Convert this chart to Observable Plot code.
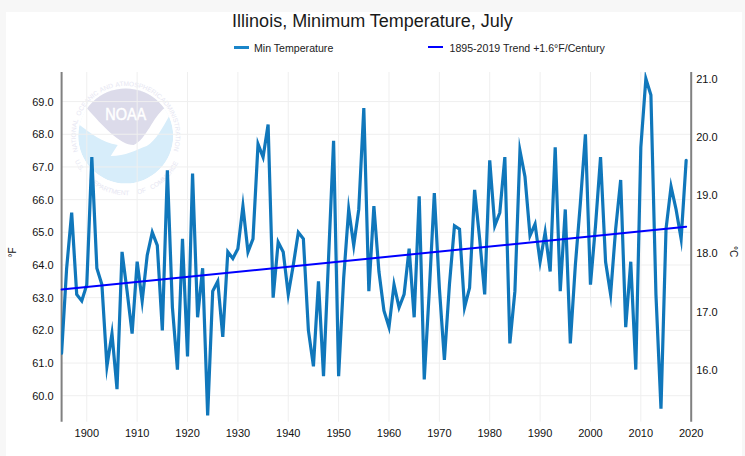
<!DOCTYPE html>
<html><head><meta charset="utf-8">
<script src="https://cdn.jsdelivr.net/npm/d3@7"></script>
<script src="https://cdn.jsdelivr.net/npm/@observablehq/plot@0.6"></script>
<style>
html,body{margin:0;padding:0;background:#f7f7f7;overflow:hidden}
#wrap{position:relative;width:745px;height:456px;font-family:"Liberation Sans",Arial,sans-serif;overflow:hidden}
#panel{position:absolute;left:6px;top:12px;width:735.5px;height:444px;background:#fff}
#logo{position:absolute;left:0;top:0}
#plot{position:absolute;left:0;top:0}
#title{position:absolute;left:0;width:745px;top:11px;text-align:center;font-size:18px;color:#1a1a1a;line-height:21px}
.lg{position:absolute;top:42px;font-size:10.6px;color:#222;line-height:13px;white-space:nowrap}
.sw{position:absolute;height:0}
</style></head><body>
<div id="wrap">
<div id="panel"></div>
<svg id="logo" width="745" height="456"><defs>
<clipPath id="dc"><circle r="47.5"/></clipPath>
<path id="arcTop" d="M-47.55,15.45 A50,50 0 1 1 47.55,15.45"/>
<path id="arcBot" d="M-51,25 A57,57 0 0 0 52.5,27"/>
</defs>
<g id="logoG" transform="translate(125.7,136)">
<g clip-path="url(#dc)"><circle r="47.5" fill="#d7edfa"/>
<path fill="#fff" d="M-50,-14 C-35,-3 -25,6 -8,9 L-15,20 C0,20 10,14 21,10 C30,5 38,-10 44,-21 L50,-50 L-50,-50 Z"/>
<path fill="#dcdbea" d="M-39,-28 A47.5,47.5 0 0 1 39,-28 C27,-19 21,3 8,9 C-6,9 -23,-10 -39,-28 Z"/></g>
<text x="0" y="-16" text-anchor="middle" font-family="Liberation Sans" font-size="16.5" fill="#fff" stroke="#fff" stroke-width="0.5" textLength="41" lengthAdjust="spacingAndGlyphs">NOAA</text>
</g></svg>
<div id="plot"></div>
<div id="title">Illinois, Minimum Temperature, July</div>
<div class="sw" style="left:234px;width:15px;border-top:3px solid #1a85c9;top:45.5px"></div>
<div class="lg" style="left:254px">Min Temperature</div>
<div class="sw" style="left:428px;width:15px;border-top:2px solid #0000ff;top:46px"></div>
<div class="lg" style="left:449.5px">1895-2019 Trend +1.6°F/Century</div>
</div>
<script>
const years = d3.range(1895, 2020);
const minTempF = [
61.3,63.9,65.6,63.1,62.9,63.4,67.3,63.9,63.4,60.9,61.9,60.2,64.4,63.2,61.9,64.1,62.9,64.3,65.0,64.6,
62.0,66.9,62.7,60.8,64.8,61.2,66.8,62.4,63.9,59.4,63.2,63.5,61.8,64.4,64.2,64.5,65.8,64.4,64.8,67.7,
67.3,68.3,63.0,64.7,64.4,63.1,64.0,65.0,64.8,62.0,60.9,63.5,60.6,64.2,67.8,60.6,63.6,65.7,64.6,65.7,
68.8,63.2,65.8,63.8,62.6,62.1,63.4,62.7,63.1,64.5,62.4,66.1,60.5,63.2,66.2,63.3,61.1,63.4,65.2,65.1,
62.7,63.3,66.3,64.8,63.1,67.2,65.2,65.6,67.3,61.6,63.2,67.5,66.7,64.9,65.25,64.1,65.0,63.8,67.6,63.2,
65.7,61.6,64.0,65.9,68.0,63.4,65.2,67.3,64.1,63.1,65.1,66.6,62.1,64.1,60.8,67.6,69.7,69.2,63.1,59.6,
65.1,66.4,65.7,64.8,67.2];
const trendYears = [1895, 2019];
const trendF = [63.25, 65.17];
const xTicks = d3.range(1900, 2030, 10);
const fTicks = d3.range(60, 70);
const cTicks = [16, 17, 18, 19, 20, 21];
const cToAxisF = c => 60.77 + (c - 16) * 1.784; // right axis
const logoTop = ["NATIONAL", "OCEANIC", "AND", "ATMOSPHERIC", "ADMINISTRATION"];
const logoBot = ["U.S.", "DEPARTMENT", "OF", "COMMERCE"];
const temps = years.map((year, i) => ({year, f: minTempF[i]}));
const trend = trendYears.map((year, i) => ({year, f: trendF[i]}));
const font = "Liberation Sans";
const chart = Plot.plot({
  width: 745, height: 456,
  marginLeft: 61.1, marginRight: 54.3, marginTop: 72, marginBottom: 34.3,
  style: {background: "transparent", fontFamily: font, fontSize: "11px", color: "#111"},
  x: {domain: [1895, 2020], label: null},
  y: {domain: [59.19, 69.89], label: null},
  marks: [
    Plot.ruleX(xTicks.filter(d => d < 2020), {x: d => d, stroke: "#efefef", strokeWidth: 1}),
    Plot.ruleY(fTicks, {y: d => d, stroke: "#efefef", strokeWidth: 1}),
    Plot.ruleX([1895, 2020], {x: d => d, stroke: "#808080", strokeWidth: 2}),
    Plot.axisX({ticks: xTicks, tickSize: 0, tickPadding: 7, tickFormat: d => String(d), label: null, fontSize: 11, fill: "#111"}),
    Plot.axisY({anchor: "left", ticks: fTicks, tickSize: 0, tickPadding: 8, dy: 0.5, tickFormat: d => d.toFixed(1), label: null, fontSize: 11, fill: "#111"}),
    Plot.axisY({anchor: "right", ticks: cTicks.map(cToAxisF), tickSize: 0, tickPadding: 5, tickFormat: (d, i) => cTicks[i].toFixed(1), label: null, fontSize: 11, fill: "#111"}),
    Plot.line(temps, {x: "year", y: "f", stroke: "#1077bb", strokeWidth: 3.2, strokeLinejoin: "miter", strokeMiterlimit: 10, clip: true}),
    Plot.line(trend, {x: "year", y: "f", stroke: "#0000ff", strokeWidth: 2})
  ]
});
document.getElementById("plot").append(chart);
const svg = d3.select(chart);
svg.append("text").text("°F").attr("transform","translate(15.5,252.5) rotate(-90)").attr("text-anchor","middle").attr("font-size",10).attr("fill","#111");
svg.append("text").text("°C").attr("transform","translate(729.5,251.5) rotate(90)").attr("text-anchor","middle").attr("font-size",10).attr("fill","#111");
// watermark ring text, one text per word
function ring(words, pathId, size) {
  const total = words.join(" ").length;
  let used = 0;
  for (const w of words) {
    d3.select("#logoG").append("text").attr("font-family", font).attr("font-size", size).attr("fill", "#e6e6f2")
      .append("textPath").attr("href", "#" + pathId).attr("startOffset", (used / total * 100) + "%").text(w);
    used += w.length + 1;
  }
}
ring(logoTop, "arcTop", 6.5);
ring(logoBot, "arcBot", 6.5);
</script>
</body></html>
